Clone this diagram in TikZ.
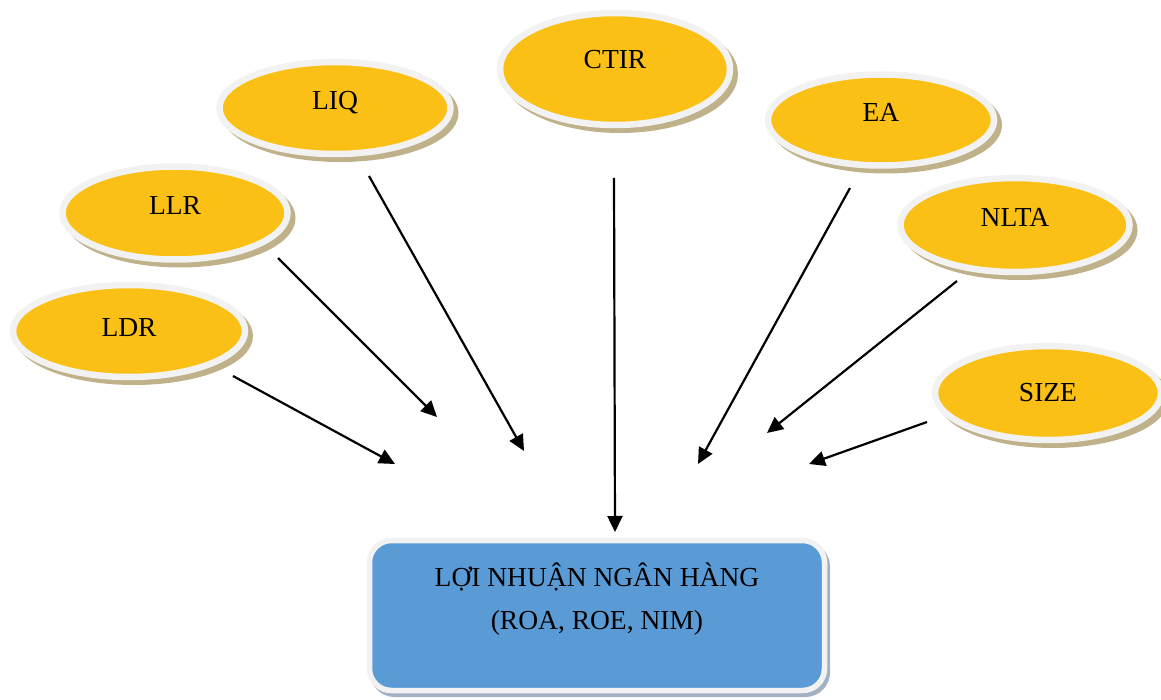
\documentclass[tikz,border=0pt]{standalone}
\usepackage{fontspec}
\setmainfont{Liberation Serif}
\usetikzlibrary{shapes.geometric,shadows,arrows.meta}
\definecolor{ovalfill}{HTML}{FBC015}
\definecolor{ringgray}{HTML}{F2F2F2}
\definecolor{ovalshadow}{HTML}{BFB28A}
\definecolor{boxblue}{HTML}{5B9BD5}
\definecolor{boxshadow}{HTML}{A3B1C2}
\newcommand\ovallabel[2]{\raisebox{#1pt}[0pt][0pt]{#2}}
\begin{document}
\begin{tikzpicture}[x=1pt,y=-1pt,
  oval/.style={ellipse, fill=ovalfill, draw=ringgray, line width=6.5pt, inner sep=0pt,
    font=\fontsize{27.5}{32}\selectfont,
    drop shadow={shadow xshift=5pt, shadow yshift=-5pt, fill=ovalshadow, draw=ovalshadow, line width=6pt, opacity=1}},
  resultbox/.style={rectangle, rounded corners=22pt, fill=boxblue, draw=ringgray, line width=5.5pt,
    inner sep=0pt, minimum width=455pt, minimum height=150pt,
    font=\fontsize{27.5}{43}\selectfont,
    drop shadow={shadow xshift=3pt, shadow yshift=-4pt, fill=boxshadow, draw=boxshadow, line width=5pt, opacity=1}},
  arrowline/.style={-{Triangle[length=16pt,width=15pt]}, line width=2.2pt, black}]
\useasboundingbox (0,0) rectangle (1161,700);

\node[resultbox] (box) at (597,615.5)
  {\ovallabel{-13.5}{\begin{tabular}[b]{@{}c@{}}LỢI NHUẬN NGÂN HÀNG\\(ROA, ROE, NIM)\end{tabular}}};

\node[oval, minimum width=230pt, minimum height=112pt] (ctir) at (615,69) {\ovallabel{0}{CTIR}};
\node[oval, minimum width=231pt, minimum height=92pt] (liq) at (335,108) {\ovallabel{-2}{LIQ}};
\node[oval, minimum width=225pt, minimum height=93pt] (llr) at (175,213) {\ovallabel{-2}{LLR}};
\node[oval, minimum width=232pt, minimum height=92pt] (ldr) at (129,331) {\ovallabel{-5.5}{LDR}};
\node[oval, minimum width=226pt, minimum height=91pt] (ea) at (881,120) {\ovallabel{-2}{EA}};
\node[oval, minimum width=229pt, minimum height=94pt] (nlta) at (1015,225) {\ovallabel{-2}{NLTA}};
\node[oval, minimum width=226pt, minimum height=94pt] (size) at (1048,393) {\ovallabel{-8}{SIZE}};

\coordinate (ldrS) at ([shift={(104,45)}]ldr.center);
\coordinate (llrS) at ([shift={(103,45)}]llr.center);
\coordinate (liqS) at ([shift={(34,68)}]liq.center);
\coordinate (ctirS) at ([shift={(-1,109)}]ctir.center);
\coordinate (eaS) at ([shift={(-31,68)}]ea.center);
\coordinate (nltaS) at ([shift={(-58,56)}]nlta.center);
\coordinate (sizeS) at ([shift={(-121,29)}]size.center);

\coordinate (ldrE) at (395,464);
\coordinate (llrE) at (437,417);
\coordinate (liqE) at (524,451);
\coordinate (ctirE) at (615,532);
\coordinate (eaE) at (698,464);
\coordinate (nltaE) at (767,433);
\coordinate (sizeE) at (809,464);

\draw[arrowline] (ldrS) -- (ldrE);
\draw[arrowline] (llrS) -- (llrE);
\draw[arrowline] (liqS) -- (liqE);
\draw[arrowline] (ctirS) -- (ctirE);
\draw[arrowline] (eaS) -- (eaE);
\draw[arrowline] (nltaS) -- (nltaE);
\draw[arrowline] (sizeS) -- (sizeE);
\end{tikzpicture}
\end{document}
